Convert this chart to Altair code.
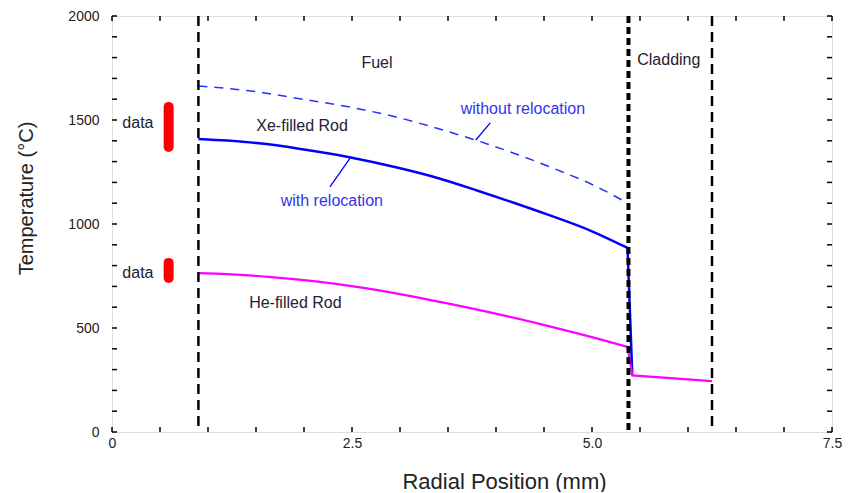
import altair as alt
import pandas as pd

# ---- data ----
xe_x = [0.9, 1.2, 1.63, 2.0, 2.46, 2.98, 3.4, 3.81, 4.2, 4.54, 5.0, 5.37]
xe_t = [1409, 1401, 1383, 1358, 1322, 1270, 1220, 1160, 1100, 1045, 965, 885]
xe_drop_x = [5.37, 5.42]
xe_drop_t = [885, 272]

norel_x = [0.9, 1.4, 2.01, 2.5, 2.98, 3.4, 3.81, 4.2, 4.64, 5.0, 5.37]
norel_t = [1663, 1642, 1598, 1560, 1512, 1458, 1400, 1338, 1260, 1190, 1101]

he_x = [0.9, 1.2, 1.63, 2.1, 2.53, 3.0, 3.57, 4.1, 4.61, 5.0, 5.37]
he_t = [764, 759, 746, 725, 699, 663, 611, 558, 502, 456, 409]
clad_x = [5.37, 5.42, 6.25]
clad_t = [409, 272, 245]

boundaries_thin = [0.9, 6.25]
boundaries_thick = [5.38]

data_x = [0.59, 0.59]
data_lo = [1370, 740]
data_hi = [1563, 813]

x_ticks = [i * 0.5 for i in range(16)]
y_ticks = list(range(0, 2001, 100))

labels_black = ["Fuel", "Cladding", "data", "data", "Xe-filled Rod", "He-filled Rod"]
labels_black_x = [2.76, 5.80, 0.27, 0.27, 1.98, 1.91]
labels_black_t = [1774, 1788, 1486, 764, 1471, 620]

labels_blue = ["with relocation", "without relocation"]
labels_blue_x = [2.29, 4.28]
labels_blue_t = [1111, 1553]

ptr_x = [2.27, 3.79]
ptr_t = [1178, 1404]
ptr_x2 = [2.48, 3.94]
ptr_t2 = [1317, 1486]

W, H = 720, 416
FONT = "Liberation Sans"

xs = alt.Scale(domain=[0, 7.5], nice=False, zero=False)
ys = alt.Scale(domain=[0, 2000], nice=False)


def df(x, t):
    return pd.DataFrame({"x": x, "t": t, "i": range(len(x))})


x_enc = alt.X("x:Q", scale=xs, axis=alt.Axis(
    values=[0, 2.5, 5.0, 7.5], ticks=False, domain=False, grid=False,
    labelExpr="datum.value == 0 ? '0' : format(datum.value, '.1f')",
    labelFlush=False, labelBound=False,
    labelFont=FONT, labelFontSize=14, labelColor="#222", labelPadding=4,
    title="Radial Position (mm)", titleFont=FONT, titleFontSize=22,
    titleFontWeight="normal", titleColor="#222", titleY=49,
    titleBaseline="middle", titleX=392))
y_enc = alt.Y("t:Q", scale=ys, axis=alt.Axis(
    values=[0, 500, 1000, 1500, 2000], ticks=False, domain=False, grid=False,
    format="d", labelFlush=False,
    labelFont=FONT, labelFontSize=14, labelColor="#222", labelPadding=13,
    title="Temperature (°C)", titleFont=FONT, titleFontSize=20,
    titleFontWeight="normal", titleColor="#222", titleX=-86, titleY=182,
    titleAlign="center", titleBaseline="middle", titleAngle=270))

xq = alt.X("x:Q", scale=xs)
yq = alt.Y("t:Q", scale=ys)

xe_line = alt.Chart(df(xe_x, xe_t)).mark_line(
    color="#0000ff", strokeWidth=2.5, interpolate="monotone").encode(
    x=x_enc, y=y_enc, order="i:O")
xe_drop = alt.Chart(df(xe_drop_x, xe_drop_t)).mark_line(
    color="#0000ff", strokeWidth=2.5).encode(x=xq, y=yq, order="i:O")
norel_line = alt.Chart(df(norel_x, norel_t)).mark_line(
    color="#2233ff", strokeWidth=1.5, strokeDash=[9, 7], interpolate="monotone").encode(
    x=xq, y=yq, order="i:O")
he_line = alt.Chart(df(he_x, he_t)).mark_line(
    color="#ff00ff", strokeWidth=2.2, interpolate="monotone").encode(
    x=xq, y=yq, order="i:O")
clad_line = alt.Chart(df(clad_x, clad_t)).mark_line(
    color="#ff00ff", strokeWidth=2.2).encode(x=xq, y=yq, order="i:O")

b_thin = alt.Chart(pd.DataFrame({"x": boundaries_thin})).mark_rule(
    color="black", strokeWidth=2.5, strokeDash=[10, 6]).encode(x=xq)
b_thick = alt.Chart(pd.DataFrame({"x": boundaries_thick})).mark_rule(
    color="black", strokeWidth=4, strokeDash=[7, 4]).encode(x=xq)

data_bars = alt.Chart(pd.DataFrame({"x": data_x, "lo": data_lo, "hi": data_hi})).mark_rule(
    color="#ff0000", strokeWidth=10, strokeCap="round").encode(
    x=xq, y=alt.Y("lo:Q", scale=ys), y2="hi:Q")

ptrs = alt.Chart(pd.DataFrame({"x": ptr_x, "t": ptr_t, "x2": ptr_x2, "t2": ptr_t2})).mark_rule(
    color="#0000ff", strokeWidth=1.3).encode(x=xq, y=yq, x2="x2:Q", y2="t2:Q")

txt_black = alt.Chart(pd.DataFrame({"x": labels_black_x, "t": labels_black_t, "s": labels_black})).mark_text(
    font=FONT, fontSize=16, color="#222233", align="center", baseline="middle").encode(
    x=xq, y=yq, text="s:N")
txt_blue = alt.Chart(pd.DataFrame({"x": labels_blue_x, "t": labels_blue_t, "s": labels_blue})).mark_text(
    font=FONT, fontSize=16, color="#3333ee", align="center", baseline="middle").encode(
    x=xq, y=yq, text="s:N")

ydf = pd.DataFrame({"t": y_ticks})
xdf = pd.DataFrame({"x": x_ticks})
tick_l = alt.Chart(ydf).mark_rule(color="black", strokeWidth=1.5).encode(
    y=yq, x=alt.value(0), x2=alt.value(5))
tick_r = alt.Chart(ydf).mark_rule(color="black", strokeWidth=1.5).encode(
    y=yq, x=alt.value(W - 5), x2=alt.value(W))
tick_b = alt.Chart(xdf).mark_rule(color="black", strokeWidth=1.5).encode(
    x=xq, y=alt.value(H - 5), y2=alt.value(H))
tick_t = alt.Chart(xdf).mark_rule(color="black", strokeWidth=1.5).encode(
    x=xq, y=alt.value(0), y2=alt.value(5))

chart = alt.layer(
    xe_line, xe_drop, norel_line, he_line, clad_line, b_thin, b_thick, data_bars, ptrs,
    txt_black, txt_blue, tick_l, tick_r, tick_b, tick_t
).properties(
    width=W, height=H,
    padding={"left": 104, "top": 8, "right": 11, "bottom": 60},
    autosize=alt.AutoSizeParams(type="none"),
).configure_view(stroke="black", strokeWidth=2.5).configure(background="white")

chart.save("out.html", embed_options={"renderer": "svg", "actions": False})
